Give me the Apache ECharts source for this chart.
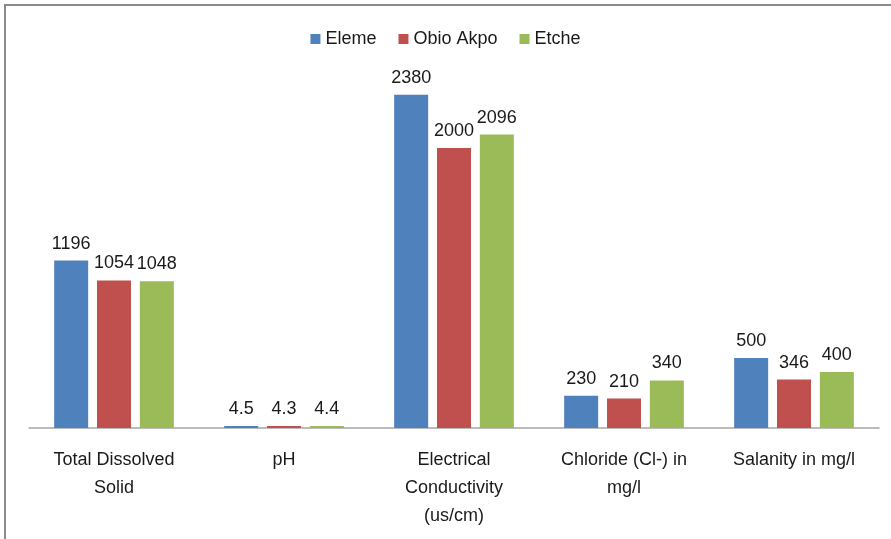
<!DOCTYPE html>
<html>
<head>
<meta charset="utf-8">
<script src="https://cdn.jsdelivr.net/npm/echarts@6/dist/echarts.min.js"></script>
<style>
html,body{margin:0;padding:0;background:#fff;}
#c{width:891px;height:539px;}
</style>
</head>
<body>
<div id="c"></div>
<script>
var categories = ["Total Dissolved\nSolid", "pH", "Electrical\nConductivity\n(us/cm)", "Chloride (Cl-) in\nmg/l", "Salanity in mg/l"];
var eleme = [1196, 4.5, 2380, 230, 500];
var obioAkpo = [1054, 4.3, 2000, 210, 346];
var etche = [1048, 4.4, 2096, 340, 400];
var seriesNames = ["Eleme", "Obio Akpo", "Etche"];

var chart = echarts.init(document.getElementById('c'));
function mk(name, data, color) {
  return {
    name: name, type: 'bar', data: data, barWidth: 34, barGap: '26%', barMinHeight: 2,
    itemStyle: { color: color },
    label: { show: true, position: 'top', distance: 8, color: '#1a1a1a', fontFamily: "Liberation Sans", fontSize: 18 }
  };
}
chart.setOption({
  animation: false,
  graphic: [
    { type: 'rect', shape: { x: 5, y: 5, width: 1000, height: 1000 }, style: { fill: 'none', stroke: '#8a8a8a', lineWidth: 2 } }
  ],
  legend: {
    top: 25, left: 'center', itemWidth: 10, itemHeight: 10, itemGap: 22, icon: 'rect',
    textStyle: { fontFamily: "Liberation Sans", fontSize: 18, color: '#1a1a1a' },
    data: seriesNames
  },
  grid: { left: 29, right: 12, top: 78, bottom: 111 },
  xAxis: {
    type: 'category', data: categories,
    axisLine: { lineStyle: { color: '#a6a6a6', width: 1.5 } },
    axisTick: { show: false },
    axisLabel: { fontFamily: "Liberation Sans", fontSize: 18, color: '#1a1a1a', lineHeight: 28, margin: 18, interval: 0 }
  },
  yAxis: { type: 'value', min: 0, max: 2500, show: false, splitLine: { show: false } },
  series: [
    mk(seriesNames[0], eleme, '#4F81BD'),
    mk(seriesNames[1], obioAkpo, '#C0504D'),
    mk(seriesNames[2], etche, '#9BBB59')
  ]
});
</script>
</body>
</html>
